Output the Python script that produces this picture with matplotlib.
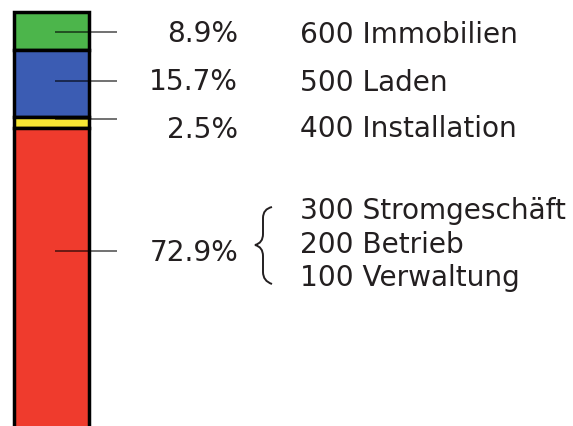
import matplotlib.pyplot as plt
from matplotlib.path import Path
from matplotlib.patches import PathPatch

# Segment shares (top to bottom)
shares = [8.9, 15.7, 2.5, 72.9]
share_labels = ['8.9%', '15.7%', '2.5%', '72.9%']
colors = ['#4cb54b', '#3b5cb3', '#f7e634', '#ef3b2d']
cost_centres = ['600 Immobilien', '500 Laden', '400 Installation',
                '300 Stromgeschäft', '200 Betrieb', '100 Verwaltung']

text_color = '#231f20'
fs = 20.2

fig = plt.figure(figsize=(5.73, 4.27), dpi=100)

# bar axes: y in percent, inverted (0 on top)
ax = fig.add_axes([0, 0, 1, 1])
ax.set_xlim(0, 573)
ax.set_ylim(96.96, -3.04)
ax.axis('off')

bottom = 0
for val, col in zip(shares, colors):
    ax.bar(51.5, val, bottom=bottom, width=75, color=col,
           edgecolor='black', linewidth=2.5, zorder=1)
    bottom += val

# overlay axes in pixel units for labels
ov = fig.add_axes([0, 0, 1, 1])
ov.set_xlim(0, 573)
ov.set_ylim(427, 0)
ov.axis('off')
ov.patch.set_alpha(0)

# leader lines
for y in [33, 82, 120, 252]:
    ov.plot([55, 117], [y, y], color='black', alpha=0.6, lw=1.3,
            solid_capstyle='butt')

font = dict(family='DejaVu Sans', size=fs, color=text_color)

# percentage labels
for lab, y in zip(share_labels, [42, 90, 138, 261]):
    ov.text(238, y, lab, ha='right', va='baseline', **font)

# cost centre labels
for lab, y in zip(cost_centres, [43, 91, 137, 219, 253, 286]):
    ov.text(300, y, lab, ha='left', va='baseline', **font)

# curly brace
verts = [(272, 208), (263, 210), (263, 219), (263, 227),
         (263, 235), (263, 244), (255, 246),
         (263, 248), (263, 257), (263, 265),
         (263, 273), (263, 282), (272, 285)]
codes = [Path.MOVETO,
         Path.CURVE3, Path.CURVE3, Path.LINETO,
         Path.LINETO, Path.CURVE3, Path.CURVE3,
         Path.CURVE3, Path.CURVE3, Path.LINETO,
         Path.LINETO, Path.CURVE3, Path.CURVE3]
ov.add_patch(PathPatch(Path(verts, codes), facecolor='none',
                       edgecolor=text_color, lw=1.4))

fig.savefig('out.png', dpi=100)
